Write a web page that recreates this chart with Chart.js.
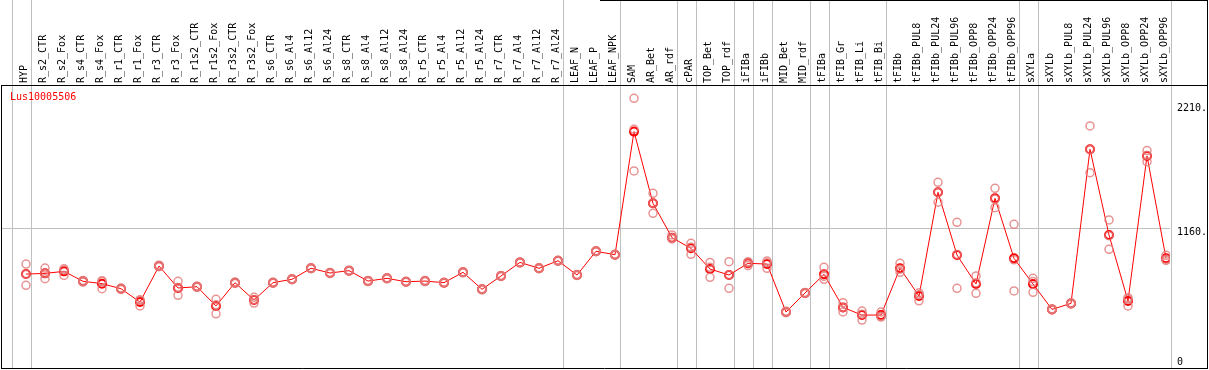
<!DOCTYPE html>
<html>
<head>
<meta charset="utf-8">
<script src="https://cdn.jsdelivr.net/npm/chart.js@4.4.1/dist/chart.umd.min.js"></script>
<style>
  html, body { margin: 0; padding: 0; background: #fff; }
  canvas { display: block; }
</style>
</head>
<body>
<canvas id="chart" width="1209" height="370"></canvas>
<script>
const geneName = 'Lus10005506'

const categories = [
  'HYP', 'R_s2_CTR', 'R_s2_Fox', 'R_s4_CTR', 'R_s4_Fox', 'R_r1_CTR', 'R_r1_Fox', 'R_r3_CTR', 'R_r3_Fox',
  'R_r1s2_CTR', 'R_r1s2_Fox', 'R_r3s2_CTR', 'R_r3s2_Fox',
  'R_s6_CTR', 'R_s6_Al4', 'R_s6_Al12', 'R_s6_Al24', 'R_s8_CTR', 'R_s8_Al4', 'R_s8_Al12', 'R_s8_Al24',
  'R_r5_CTR', 'R_r5_Al4', 'R_r5_Al12', 'R_r5_Al24', 'R_r7_CTR', 'R_r7_Al4', 'R_r7_Al12', 'R_r7_Al24',
  'LEAF_N', 'LEAF_P', 'LEAF_NPK', 'SAM', 'AR_Bet', 'AR_rdf', 'cPAR', 'TOP_Bet', 'TOP_rdf',
  'iFIBa', 'iFIBb', 'MID_Bet', 'MID_rdf', 'tFIBa', 'tFIB_Gr', 'tFIB_Li', 'tFIB_Bi',
  'tFIBb', 'tFIBb_PUL8', 'tFIBb_PUL24', 'tFIBb_PUL96', 'tFIBb_OPP8', 'tFIBb_OPP24', 'tFIBb_OPP96',
  'sXYLa', 'sXYLb', 'sXYLb_PUL8', 'sXYLb_PUL24', 'sXYLb_PUL96', 'sXYLb_OPP8', 'sXYLb_OPP24', 'sXYLb_OPP96'
]

// 平均值
const meanValues = [
  770, 776, 793, 709, 689, 646, 533, 838, 652, 663, 500, 697, 550,
  697, 726, 819, 779, 799, 711, 734, 705, 711, 697, 785, 641, 754, 869, 819, 883,
  762, 963, 934,
  1976, 1369, 1078, 988, 813, 762, 861, 855, 449, 610, 768, 488, 423, 423,
  819, 584, 1462, 931, 686, 1411, 903,
  686, 471, 522, 1826, 1101, 542, 1770, 903
]

// 三个重复
const repA = [
  855, 821, 815, 716, 714, 652, 553, 845, 709, 668, 556, 703, 573,
  701, 730, 823, 783, 803, 715, 738, 709, 715, 701, 789, 645, 758, 873, 823, 887,
  766, 967, 938,
  2258, 1454, 1101, 1030, 869, 875, 875, 880, 455, 615, 827, 528, 457, 449,
  861, 612, 1547, 1208, 754, 1496, 1191,
  734, 476, 527, 2024, 1228, 570, 1815, 929
]
const repB = [
  770, 776, 805, 709, 707, 646, 547, 838, 657, 663, 510, 697, 552,
  697, 726, 819, 779, 799, 711, 734, 705, 711, 697, 785, 641, 754, 869, 819, 883,
  762, 963, 934,
  1996, 1369, 1078, 997, 827, 762, 866, 866, 449, 610, 751, 487, 431, 414,
  811, 596, 1461, 936, 697, 1405, 891,
  708, 471, 522, 1826, 1095, 556, 1774, 895
]
const repC = [
  675, 731, 759, 702, 646, 640, 500, 832, 590, 658, 434, 691, 525,
  693, 722, 815, 775, 795, 707, 730, 701, 707, 693, 781, 637, 750, 865, 815, 879,
  758, 959, 930,
  1643, 1284, 1067, 937, 743, 649, 842, 819, 443, 605, 726, 449, 381, 406,
  785, 544, 1378, 649, 607, 1332, 627,
  616, 466, 517, 1628, 980, 500, 1721, 885
]

const yTicks = [0, 1160, 2210]
const gridAfter = [-1, 0, 28, 31, 34, 35, 37, 38, 39, 41, 42, 45, 52, 53, 60] // 分组竖线

const FONT = '10px "DejaVu Sans Mono", monospace'
const toXY = arr => arr.map((v, i) => ({ x: i, y: v }))

function repDataset(arr) {
  return {
    data: toXY(arr),
    showLine: false,
    pointRadius: 4,
    pointBorderWidth: 1.5,
    pointBorderColor: 'rgba(226, 120, 120, 0.8)',
    pointBackgroundColor: 'rgba(0,0,0,0)',
    pointHoverRadius: 4
  }
}

const framePlugin = {
  id: 'frame',
  beforeDatasetsDraw(chart) {
    const ctx = chart.ctx
    const x = chart.scales.x
    const y = chart.scales.y
    const area = chart.chartArea
    ctx.save()
    ctx.strokeStyle = '#c0c0c0'
    ctx.lineWidth = 1
    for (const g of gridAfter) {
      const px = Math.round(x.getPixelForValue(g + 0.26)) + 0.5
      ctx.beginPath()
      ctx.moveTo(px, 0)
      ctx.lineTo(px, area.bottom)
      ctx.stroke()
    }
    const py = Math.round(y.getPixelForValue(1160)) + 0.5
    ctx.beginPath()
    ctx.moveTo(area.left, py)
    ctx.lineTo(area.right, py)
    ctx.stroke()
    ctx.restore()
  },
  afterDraw(chart) {
    const ctx = chart.ctx
    const x = chart.scales.x
    const y = chart.scales.y
    const area = chart.chartArea
    const W = chart.width
    ctx.save()
    // 边框
    ctx.strokeStyle = '#000'
    ctx.lineWidth = 1
    ctx.beginPath()
    ctx.moveTo(1.5, area.top)
    ctx.lineTo(1.5, area.bottom + 0.5)
    ctx.moveTo(1, area.bottom + 0.5)
    ctx.lineTo(W - 1, area.bottom + 0.5)
    ctx.moveTo(W - 1.5, 0)
    ctx.lineTo(W - 1.5, area.bottom + 0.5)
    ctx.moveTo(600, 0.5)
    ctx.lineTo(W - 1, 0.5)
    ctx.moveTo(1, area.top - 0.5)
    ctx.lineTo(W - 1, area.top - 0.5)
    ctx.stroke()

    // 表头竖排标签
    ctx.font = FONT
    ctx.fillStyle = '#000'
    ctx.textAlign = 'left'
    ctx.textBaseline = 'middle'
    categories.forEach((name, i) => {
      ctx.save()
      ctx.translate(x.getPixelForValue(i) - 2, area.top - 3)
      ctx.rotate(-Math.PI / 2)
      ctx.fillText(name, 0, 0)
      ctx.restore()
    })

    // y轴标签
    yTicks.forEach(t => {
      let py = y.getPixelForValue(t) + 4
      if (py > area.bottom - 6) py = area.bottom - 6
      ctx.fillText(t === 0 ? '0' : t + '.', area.right + 7, py)
    })

    // 标题
    ctx.fillStyle = '#ff0000'
    ctx.fillText(geneName, 10, 97)
    ctx.restore()
  }
}

const config = {
  type: 'line',
  data: {
    datasets: [
      repDataset(repA),
      repDataset(repB),
      repDataset(repC),
      {
        data: toXY(meanValues),
        borderColor: '#ff0000',
        borderWidth: 1,
        fill: false,
        tension: 0,
        pointRadius: 4,
        pointBorderWidth: 2,
        pointBorderColor: '#ff0000',
        pointBackgroundColor: 'rgba(0,0,0,0)'
      }
    ]
  },
  options: {
    responsive: false,
    animation: false,
    devicePixelRatio: 1,
    layout: {
      autoPadding: false,
      padding: { left: 2, top: 86, right: 39, bottom: 2 }
    },
    scales: {
      x: { type: 'linear', display: false, min: -24 / 19, max: -24 / 19 + 1168 / 19 },
      y: { type: 'linear', display: false, min: -25, max: 2362 }
    },
    plugins: {
      legend: { display: false },
      tooltip: { enabled: false }
    }
  },
  plugins: [framePlugin]
}

new Chart(document.getElementById('chart').getContext('2d'), config)
</script>
</body>
</html>
